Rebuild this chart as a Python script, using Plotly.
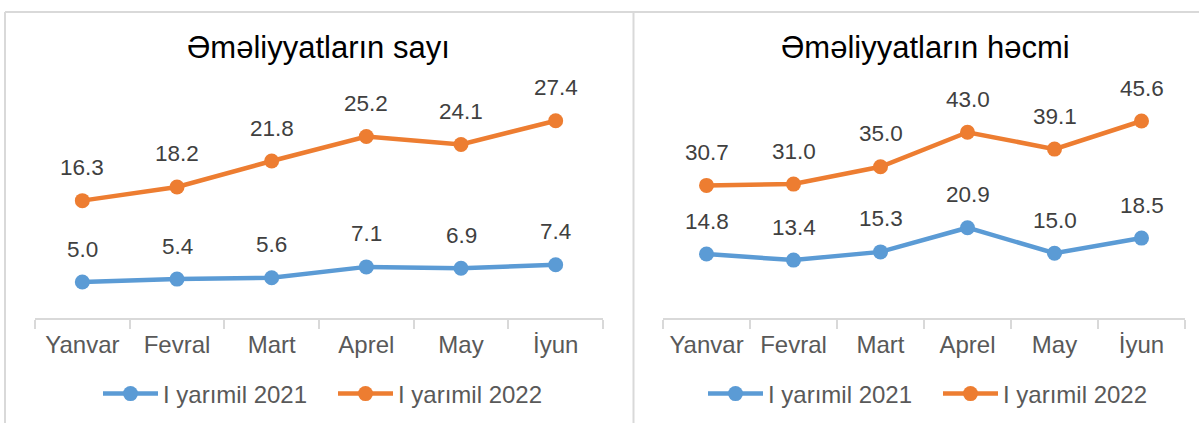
import plotly.graph_objects as go

months = ["Yanvar", "Fevral", "Mart", "Aprel", "May", "İyun"]
series_names = ["I yarımil 2021", "I yarımil 2022"]

count_2021 = [5.0, 5.4, 5.6, 7.1, 6.9, 7.4]
count_2022 = [16.3, 18.2, 21.8, 25.2, 24.1, 27.4]
volume_2021 = [14.8, 13.4, 15.3, 20.9, 15.0, 18.5]
volume_2022 = [30.7, 31.0, 35.0, 43.0, 39.1, 45.6]

titles = ["Əməliyyatların sayı", "Əməliyyatların həcmi"]

BLUE = "#5B9BD5"
ORANGE = "#ED7D31"
GREY = "#D9D9D9"
FONT = "Liberation Sans, Arial, sans-serif"

W, H = 1199, 423


def px(x):
    return x / W


def py(y):
    return 1 - y / H


fig = go.Figure()

panels = [
    ("x", "y", "legend", [count_2021, count_2022]),
    ("x2", "y2", "legend2", [volume_2021, volume_2022]),
]

annotations = []
for xa, ya, leg, data in panels:
    for name, vals, color in zip(series_names, data, [BLUE, ORANGE]):
        fig.add_trace(go.Scatter(
            x=months, y=vals, name=name, mode="lines+markers",
            xaxis=xa, yaxis=ya, legend=leg,
            line=dict(color=color, width=4.5),
            marker=dict(color=color, size=15),
            hoverinfo="skip",
        ))
        # data labels above each point
        for m, v in zip(months, vals):
            annotations.append(dict(
                x=m, y=v, xref=xa, yref=ya, text=f"{v:.1f}",
                showarrow=False, yshift=33,
                font=dict(family=FONT, size=22.5, color="#404040"),
            ))

# chart titles
for t, cx in zip(titles, [318, 925]):
    annotations.append(dict(
        x=px(cx), y=py(47), xref="paper", yref="paper", text=t,
        showarrow=False, xanchor="center", yanchor="middle",
        font=dict(family=FONT, size=31, color="#000000"),
    ))

axis_common = dict(
    range=[-0.5, len(months) - 0.5], autorange=False,
    showline=True, linecolor=GREY, linewidth=1.5,
    ticks="outside", tickson="boundaries", ticklen=9, tickcolor=GREY, tickwidth=1.5,
    tickfont=dict(family=FONT, size=24, color="#595959"), ticklabelstandoff=4,
    showgrid=False, zeroline=False, fixedrange=True,
)

legend_common = dict(
    orientation="h", xanchor="center", yanchor="middle",
    font=dict(family=FONT, size=24, color="#595959"),
    bgcolor="rgba(0,0,0,0)", itemclick=False,
    itemwidth=55, entrywidth=165,
)

# panel frames
shapes = [
    dict(type="line", xref="paper", yref="paper", x0=px(5), x1=1, y0=py(12), y1=py(12),
         line=dict(color=GREY, width=2)),
    dict(type="line", xref="paper", yref="paper", x0=px(5), x1=px(5), y0=0, y1=py(12),
         line=dict(color=GREY, width=2)),
    dict(type="line", xref="paper", yref="paper", x0=px(633.5), x1=px(633.5), y0=0, y1=py(12),
         line=dict(color=GREY, width=2)),
]

fig.update_layout(
    width=W, height=H,
    margin=dict(l=0, r=0, t=0, b=0),
    paper_bgcolor="white", plot_bgcolor="white",
    xaxis=dict(domain=[px(35), px(603)], anchor="y", **axis_common),
    yaxis=dict(domain=[py(318), py(102)], anchor="x", range=[0, 30], visible=False),
    xaxis2=dict(domain=[px(663), px(1185)], anchor="y2", **axis_common),
    yaxis2=dict(domain=[py(318), py(102)], anchor="x2", range=[0, 50], visible=False),
    legend=dict(x=px(333), y=py(394), **legend_common),
    legend2=dict(x=px(938), y=py(394), **legend_common),
    annotations=annotations,
    shapes=shapes,
    showlegend=True,
)

# drop the default page margin so the figure sits at the window corner
fig.write_html("out.html", config={"displayModeBar": False},
               post_script="document.body.style.margin='0';")
